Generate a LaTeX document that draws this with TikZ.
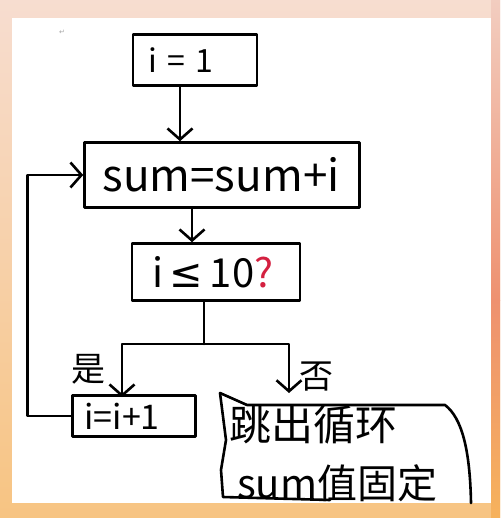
\documentclass[tikz,border=0pt]{standalone}
\usepackage{fontspec}
\setmainfont{Noto Sans CJK SC}
\newfontfamily\symfont{DejaVu Sans}
\usetikzlibrary{arrows.meta}
\definecolor{bgtop}{RGB}{247,221,208}
\definecolor{bgbot}{RGB}{247,196,130}
\definecolor{edgetop}{RGB}{242,205,192}
\definecolor{edgemid}{RGB}{238,145,112}
\definecolor{edgebot}{RGB}{246,178,92}
\definecolor{qred}{RGB}{212,32,64}
\tikzset{
  ink/.style={line width=2.6pt, line join=round, line cap=round, black},
  box/.style={ink, draw, rectangle, inner ysep=0pt, align=left},
  arr/.style={ink, -{Straight Barb[length=11pt,width=25pt,line width=2.6pt]}},
  lbl/.style={inner sep=0pt, font=\fontsize{34}{36}\selectfont}
}
\begin{document}
\begin{tikzpicture}[x=1pt,y=-1pt]
\useasboundingbox (0,0) rectangle (500,518);
% background
\shade[top color=bgtop, bottom color=bgbot] (0,0) rectangle (500,518);
\shade[top color=edgetop, bottom color=edgemid] (491,0) rectangle (500,300);
\shade[top color=edgemid, bottom color=edgebot] (491,300) rectangle (500,518);
\fill[white] (12,18) rectangle (491,503);
\node[text=black!35, font=\symfont\fontsize{7}{8}\selectfont] (ret) at (62,32) {↵};
% boxes
\node[box, inner xsep=15pt, text width=94pt, minimum height=51pt, font=\fontsize{32}{34}\selectfont] (b1) at (195,60) {i = 1};
\node[box, inner xsep=18pt, text width=239pt, minimum height=65pt, font=\fontsize{44}{46}\selectfont] (b2) at (222,175) {sum=sum+i};
\node[box, inner xsep=20pt, text width=128pt, minimum height=57pt, font=\fontsize{40}{42}\selectfont] (b3) at (216,272) {i\,{\symfont ≤}\,10\textcolor{qred}{?}};
\node[box, inner xsep=12pt, text width=99pt, minimum height=41pt, font=\fontsize{34}{36}\selectfont] (b4) at (134,416) {i=i+1};
\node[inner sep=0pt, anchor=west, align=left, font=\fontsize{40}{56}\selectfont] (b5) at (229,453) {{\fontsize{42}{44}\selectfont 跳出循环}\\[2pt]\hspace*{8pt}sum值固定};
\coordinate (b5in) at (289,393);
\draw[ink] (220,393) -- (247,405) -- (445,405) .. controls (462,418) and (470,450) .. (471,503);
\draw[ink] (220,393) -- (226,440) -- (221,470) -- (223,497) -- (330,500);
% labels
\node[lbl] (yes) at (88,369) {是};
\node[lbl] (no) at (316,377) {否};
% connectors
\draw[arr] ([xshift=-15pt]b1.south) -- ([xshift=-42pt]b2.north);
\draw[arr] ([xshift=-30pt]b2.south) -- ([xshift=-24pt]b3.north);
\coordinate (sp) at (204,344);
\draw[ink] ([xshift=-12pt]b3.south) -- (sp);
\draw[arr] (sp) -| ([xshift=-12pt,yshift=-3pt]b4.north);
\draw[arr] (sp) -| (b5in);
\draw[arr] (b4.west) -- ++(-44,0) |- (b2.west);
\end{tikzpicture}
\end{document}
